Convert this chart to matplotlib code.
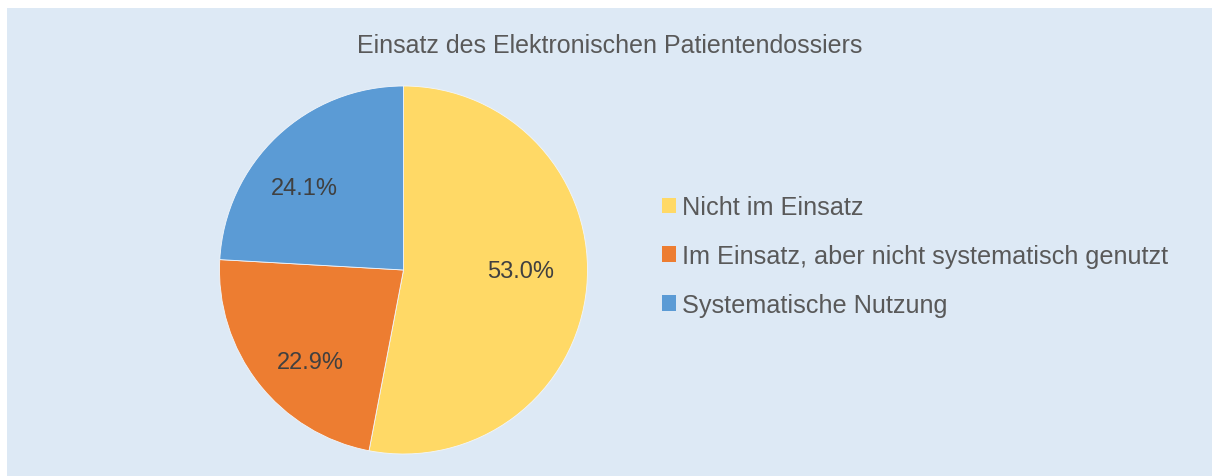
import numpy as np
import matplotlib
matplotlib.use("Agg")
import matplotlib.pyplot as plt
from matplotlib.patches import Rectangle, Patch

title = "Einsatz des Elektronischen Patientendossiers"
categories = ["Nicht im Einsatz",
              "Im Einsatz, aber nicht systematisch genutzt",
              "Systematische Nutzung"]
shares = [53.0, 22.9, 24.1]
colors = ["#FFD966", "#ED7D31", "#5B9BD5"]

W, H = 1212, 477
bg = "#DDE9F5"
txt = "#595959"
plt.rcParams['font.family'] = ['Liberation Sans', 'DejaVu Sans']

fig = plt.figure(figsize=(W / 100, H / 100), dpi=100, facecolor="white")
# light blue panel (white strip at top and left)
fig.patches.append(Rectangle((7 / W, 0), 1, (H - 9) / H, transform=fig.transFigure,
                             facecolor=bg, edgecolor="none", zorder=-5))

fig.text(610 / W, 1 - 46 / H, title, ha="center", va="center",
         fontsize=18, color=txt)

# pie centred at (403, 271) px, radius 184 px
cx, cy, r = 403.5, 271, 184
ax = fig.add_axes([(cx - r) / W, (H - cy - r) / H, 2 * r / W, 2 * r / H])
ax.set_facecolor("none")
ax.set_zorder(2)
wedges, texts, autotexts = ax.pie(
    shares, colors=colors, startangle=90, counterclock=False,
    autopct="%.1f%%", pctdistance=0.67,
    wedgeprops=dict(edgecolor="#F2F6FB", linewidth=0.6),
    textprops=dict(fontsize=17, color="#404040"))

# label placement like the original (slightly rotated from the wedge middle)
label_dist = [0.635, 0.70, 0.708]
label_turn = 6.0
for w, t, d in zip(wedges, autotexts, label_dist):
    mid = np.deg2rad((w.theta1 + w.theta2) / 2 + label_turn)
    t.set_position((d * np.cos(mid), d * np.sin(mid) - 0.014))

ax.set_xlim(-1, 1)
ax.set_ylim(-1, 1)
ax.set_aspect("equal")
ax.axis("off")

handles = [Patch(facecolor=c, edgecolor="none") for c in colors]
leg = fig.legend(handles, categories, loc="center left",
                 bbox_to_anchor=(662 / W, 1 - 257 / H), frameon=False,
                 fontsize=18.2, labelcolor=txt, handlelength=0.56, handleheight=0.56,
                 handletextpad=0.25, labelspacing=0.98, borderaxespad=0,
                 borderpad=0)
leg.set_zorder(3)

fig.savefig("out.png", dpi=100, facecolor="white")
